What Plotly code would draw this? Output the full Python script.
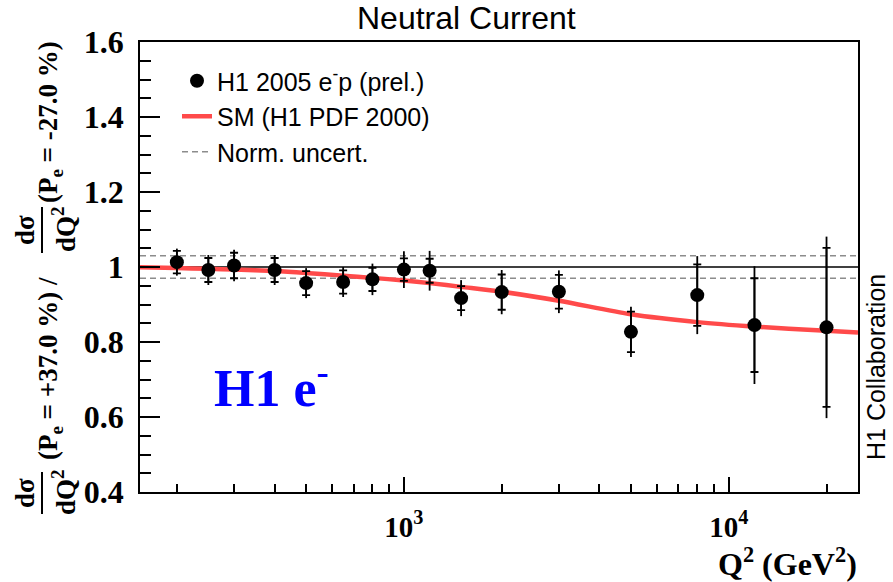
import plotly.graph_objects as go

# ---- data ----
Q2 = [200, 250, 300, 400, 500, 650, 800, 1000, 1200, 1500, 2000, 3000, 5000, 8000, 12000, 20000]
ratio = [1.013, 0.992, 1.004, 0.992, 0.957, 0.960, 0.967, 0.993, 0.990, 0.917, 0.933, 0.934, 0.827, 0.925, 0.845, 0.839]
err_stat = [0.030, 0.032, 0.034, 0.032, 0.032, 0.031, 0.031, 0.030, 0.032, 0.032, 0.047, 0.045, 0.054, 0.082, 0.125, 0.212]
err_tot = [0.036, 0.040, 0.042, 0.040, 0.040, 0.040, 0.042, 0.049, 0.053, 0.048, 0.059, 0.057, 0.067, 0.104, 0.157, 0.242]

Q2_sm = [154, 200, 250, 300, 400, 500, 650, 800, 1000, 1200, 1500, 2000, 3000, 5000, 8000, 12000, 20000, 25000]
ratio_sm = [0.999, 0.997, 0.995, 0.993, 0.989, 0.984, 0.977, 0.971, 0.964, 0.957, 0.947, 0.934, 0.910, 0.874, 0.853, 0.841, 0.830, 0.825]

Q2_range = [154, 25000]
norm_unc = 0.03

y_major = [0.4, 0.6, 0.8, 1.0, 1.2, 1.4, 1.6]
y_major_text = ["0.4", "0.6", "0.8", "1", "1.2", "1.4", "1.6"]
x_major = [1000, 10000]
x_major_text = ["10<sup>3</sup>", "10<sup>4</sup>"]
x_minor = [200, 300, 400, 500, 600, 700, 800, 900,
           2000, 3000, 4000, 5000, 6000, 7000, 8000, 9000, 20000]

# ---- geometry helpers (pixels -> paper) ----
W, H = 893, 582
L, R, T, B = 140, 35, 42, 90
PW, PH = W - L - R, H - T - B


def px(x):
    return (x - L) / PW


def py(y):
    return (H - B - y) / PH


SERIF = "Liberation Serif"
SANS = "Liberation Sans"

fig = go.Figure()

# normalisation uncertainty lines
fig.add_trace(go.Scatter(
    x=[Q2_range[0], Q2_range[1], None, Q2_range[0], Q2_range[1]],
    y=[1 + norm_unc, 1 + norm_unc, None, 1 - norm_unc, 1 - norm_unc],
    mode="lines", line=dict(color="#8c8c8c", width=1.5, dash="6px,4px"),
    name="Norm. uncert.", legendrank=3, hoverinfo="skip"))

# unity line
fig.add_trace(go.Scatter(
    x=Q2_range, y=[1, 1], mode="lines",
    line=dict(color="black", width=1.5), showlegend=False, hoverinfo="skip"))

# SM curve
fig.add_trace(go.Scatter(
    x=Q2_sm, y=ratio_sm, mode="lines",
    line=dict(color="#ff4a4a", width=4.5, shape="spline", smoothing=0.8),
    name="SM (H1 PDF 2000)", legendrank=2))

# stat errors (with small ticks)
fig.add_trace(go.Scatter(
    x=Q2, y=ratio, mode="markers", marker=dict(color="black", size=14, opacity=0),
    error_y=dict(type="data", array=err_stat, color="black", thickness=1.8, width=4),
    showlegend=False, hoverinfo="skip"))

# total errors + points
fig.add_trace(go.Scatter(
    x=Q2, y=ratio, mode="markers", marker=dict(color="black", size=14),
    error_y=dict(type="data", array=err_tot, color="black", thickness=1.8, width=0),
    name="H1 2005 e<sup>-</sup>p (prel.)", legendrank=1))

annotations = []

# title
annotations.append(dict(text="Neutral Current", x=px(466), y=py(18), xref="paper", yref="paper",
                        showarrow=False, xanchor="center", yanchor="middle",
                        font=dict(family=SANS, size=32, color="black")))
# x axis title
annotations.append(dict(text="Q<sup>2</sup> (GeV<sup>2</sup>)", x=px(859), y=py(562), xref="paper", yref="paper",
                        showarrow=False, xanchor="right", yanchor="middle",
                        font=dict(family=SERIF, size=32, color="black", weight="bold")))
# right side label
annotations.append(dict(text="H1 Collaboration", x=px(876), y=py(367), xref="paper", yref="paper",
                        showarrow=False, xanchor="center", yanchor="middle", textangle=-90,
                        font=dict(family=SANS, size=25, color="black")))
# H1 e-
annotations.append(dict(text="H1 e<sup>-</sup>", x=px(212), y=py(384), xref="paper", yref="paper",
                        showarrow=False, xanchor="left", yanchor="middle",
                        font=dict(family=SERIF, size=52, color="#0000ff", weight="bold")))

# y-axis label built from pieces
yl_font = dict(family=SERIF, size=27, color="black", weight="bold")
shapes = []
for yc, half in [(493, 21), (230, 23)]:
    annotations.append(dict(text="dσ", x=px(25), y=py(yc), xref="paper", yref="paper",
                            showarrow=False, xanchor="center", yanchor="middle", textangle=-90, font=yl_font))
    annotations.append(dict(text="dQ<sup>2</sup>", x=px(64), y=py(yc), xref="paper", yref="paper",
                            showarrow=False, xanchor="center", yanchor="middle", textangle=-90, font=yl_font))
    shapes.append(dict(type="line", xref="paper", yref="paper", x0=px(42), x1=px(42),
                       y0=py(yc - half), y1=py(yc + half), line=dict(color="black", width=2)))
annotations.append(dict(text="(P<sub>e</sub> = +37.0 %) /", x=px(50), y=py(369), xref="paper", yref="paper",
                        showarrow=False, xanchor="center", yanchor="middle", textangle=-90, font=yl_font))
annotations.append(dict(text="(P<sub>e</sub> = -27.0 %)", x=px(50), y=py(122), xref="paper", yref="paper",
                        showarrow=False, xanchor="center", yanchor="middle", textangle=-90, font=yl_font))

fig.update_layout(
    width=W, height=H, margin=dict(l=L, r=R, t=T, b=B),
    paper_bgcolor="white", plot_bgcolor="white",
    showlegend=True,
    legend=dict(x=px(177), y=py(58), xanchor="left", yanchor="top",
                bgcolor="rgba(0,0,0,0)", font=dict(family=SANS, size=25, color="black"),
                tracegroupgap=0, itemwidth=30),
    annotations=annotations, shapes=shapes,
)

fig.update_xaxes(type="log", range=[2.18752, 4.39794], showgrid=False, zeroline=False,
                 showline=True, linecolor="black", linewidth=1.5, mirror=True,
                 ticks="inside", ticklen=15, tickwidth=1.5, tickcolor="black",
                 tickmode="array", tickvals=x_major, ticktext=x_major_text,
                 tickfont=dict(family=SERIF, size=29, color="black", weight="bold"),
                 ticklabelstandoff=8,
                 minor=dict(tickmode="array", tickvals=x_minor, ticks="inside", ticklen=8,
                            tickwidth=1.5, tickcolor="black", showgrid=False))
fig.update_yaxes(range=[0.4, 1.6], showgrid=False, zeroline=False,
                 showline=True, linecolor="black", linewidth=1.5, mirror=True,
                 ticks="inside", ticklen=20, tickwidth=1.5, tickcolor="black",
                 tickmode="array", tickvals=y_major, ticktext=y_major_text,
                 tickfont=dict(family=SERIF, size=32, color="black", weight="bold"),
                 ticklabelstandoff=8,
                 minor=dict(dtick=0.05, ticks="inside", ticklen=11, tickwidth=1.5,
                            tickcolor="black", showgrid=False))

fig.write_html("out.html")
